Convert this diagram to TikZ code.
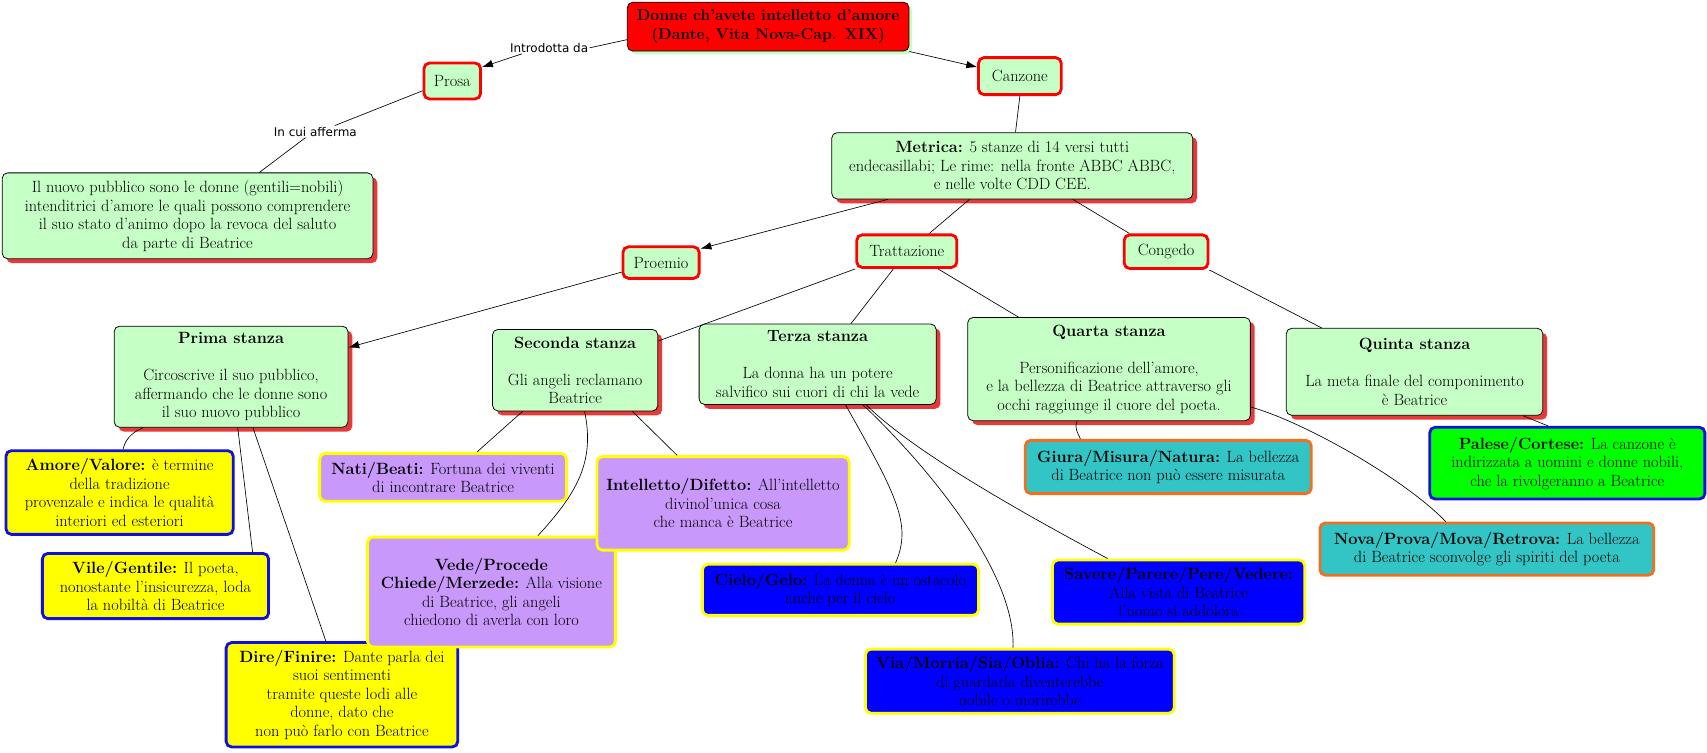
\documentclass[tikz,border=0pt]{standalone}
\usepackage{fontspec}
\newfontfamily\labelfont{DejaVu Sans}
\usetikzlibrary{arrows.meta,shadows}

\definecolor{cgreen}{HTML}{C6FFC6}
\definecolor{shred}{HTML}{E63A3A}
\definecolor{lavender}{HTML}{C898FA}
\definecolor{cyanbox}{HTML}{33C5C5}
\definecolor{orangeb}{HTML}{F07020}
\definecolor{ylw}{HTML}{FFFF00}
\definecolor{blu}{HTML}{0000FF}
\definecolor{bluedge}{HTML}{1010DD}
\definecolor{grn}{HTML}{00FF00}

\tikzset{
  box/.style={align=center, rounded corners=5pt, inner sep=2pt},
  concept/.style={box, draw=black, line width=0.7pt, fill=cgreen,
    drop shadow={shadow xshift=4pt, shadow yshift=-4pt, fill=shred, opacity=1}},
  maintitle/.style={box, draw=black, line width=0.7pt, fill=red,
    font=\fontsize{14.5}{17}\selectfont\bfseries,
    drop shadow={shadow xshift=3pt, shadow yshift=-3pt, fill=cgreen, opacity=1}},
  linkword/.style={box, draw=red, line width=2.6pt, fill=cgreen},
  leaf/.style={box, line width=2.6pt},
  yellowleaf/.style={leaf, draw=bluedge, fill=ylw},
  purpleleaf/.style={leaf, draw=ylw, fill=lavender},
  blueleaf/.style={leaf, draw=ylw, fill=blu},
  cyanleaf/.style={leaf, draw=orangeb, fill=cyanbox},
  greenleaf/.style={leaf, draw=bluedge, fill=grn},
  lbl/.style={font=\labelfont\fontsize{11}{13}\selectfont, inner sep=1pt},
  arr/.style={-{Latex[length=10pt,width=7pt]}},
}

\begin{document}
\begin{tikzpicture}[x=1pt, y=-1pt, line width=0.6pt,
  every node/.style={font=\fontsize{15}{17}\selectfont}]
\useasboundingbox (0,0) rectangle (1570,692);

% top of the map
\node[maintitle, minimum width=259pt, minimum height=45pt] (title) at (706.5,24.5)
  {Donne ch'avete intelletto d'amore\\(Dante, Vita Nova-Cap. XIX)};
\node[linkword, minimum width=52pt, minimum height=33pt] (prosa) at (416,74.5) {Prosa};
\node[linkword, minimum width=76pt, minimum height=34pt] (canzone) at (938,70) {Canzone};
\node[lbl] (intro) at (505,44) {Introdotta da};
\node[lbl] (incui) at (290,121) {In cui afferma};
\node[concept, minimum width=341pt, minimum height=79pt] (prosatext) at (172.5,198.5)
  {Il nuovo pubblico sono le donne (gentili=nobili)\\intenditrici d'amore le quali possono comprendere\\il suo stato d'animo dopo la revoca del saluto\\da parte di Beatrice};
\node[concept, minimum width=332pt, minimum height=61pt] (metrica) at (931,152.5)
  {\textbf{Metrica:} 5 stanze di 14 versi tutti\\endecasillabi; Le rime: nella fronte ABBC ABBC,\\e nelle volte CDD CEE.};

% parts of the canzone
\node[linkword, minimum width=70pt, minimum height=29pt] (proemio) at (608,241.5) {Proemio};
\node[linkword, minimum width=92pt, minimum height=30pt] (trattazione) at (834,231) {Trattazione};
\node[linkword, minimum width=77pt, minimum height=31pt] (congedo) at (1072.5,231.5) {Congedo};

% stanze
\node[concept, minimum width=215pt, minimum height=93pt] (prima) at (212.5,346.5)
  {\textbf{Prima stanza}\\[17pt]Circoscrive il suo pubblico,\\affermando che le donne sono\\il suo nuovo pubblico};
\node[concept, minimum width=152pt, minimum height=75pt] (seconda) at (529,340.5)
  {\textbf{Seconda stanza}\\[17pt]Gli angeli reclamano\\Beatrice};
\node[concept, minimum width=218pt, minimum height=74pt] (terza) at (752,335)
  {\textbf{Terza stanza}\\[17pt]La donna ha un potere\\salvifico sui cuori di chi la vede};
\node[concept, minimum width=260pt, minimum height=95pt] (quarta) at (1020,339.5)
  {\textbf{Quarta stanza}\\[17pt]Personificazione dell'amore,\\e la bellezza di Beatrice attraverso gli\\occhi raggiunge il cuore del poeta.};
\node[concept, minimum width=236pt, minimum height=80pt] (quinta) at (1301,342)
  {\textbf{Quinta stanza}\\[17pt]La meta finale del componimento\\è Beatrice};

% rime
\node[yellowleaf, minimum width=209pt, minimum height=77pt] (amore) at (110,453)
  {\textbf{Amore/Valore:} è termine\\della tradizione\\provenzale e indica le qualità\\interiori ed esteriori};
\node[yellowleaf, minimum width=208pt, minimum height=60pt] (vile) at (143,539)
  {\textbf{Vile/Gentile:} Il poeta,\\nonostante l'insicurezza, loda\\la nobiltà di Beatrice};
\node[yellowleaf, minimum width=213pt, minimum height=96pt] (dire) at (314.5,639)
  {\textbf{Dire/Finire:} Dante parla dei\\suoi sentimenti\\tramite queste lodi alle\\donne, dato che\\non può farlo con Beatrice};
\node[purpleleaf, minimum width=227pt, minimum height=44pt] (nati) at (407.5,439)
  {\textbf{Nati/Beati:} Fortuna dei viventi\\di incontrare Beatrice};
\node[purpleleaf, minimum width=228pt, minimum height=101pt] (vede) at (452,544.5)
  {\textbf{Vede/Procede}\\\textbf{Chiede/Merzede:} Alla visione\\di Beatrice, gli angeli\\chiedono di averla con loro};
\node[purpleleaf, minimum width=232pt, minimum height=86pt] (intelletto) at (665,463)
  {\textbf{Intelletto/Difetto:} All'intelletto\\divinol'unica cosa\\che manca è Beatrice};
\node[blueleaf, minimum width=254pt, minimum height=47pt] (cielo) at (773,542.5)
  {\textbf{Cielo/Gelo:} La donna è un ostacolo\\anche per il cielo};
\node[blueleaf, minimum width=284pt, minimum height=59pt] (via) at (938,626.5)
  {\textbf{Via/Morria/Sia/Oblia:} Chi ha la forza\\di guardarla diventerebbe\\nobile o morirebbe};
\node[blueleaf, minimum width=232pt, minimum height=59pt] (savere) at (1084,544.5)
  {\textbf{Savere/Parere/Pere/Vedere:}\\Alla vista di Beatrice\\l'uomo si addolora};
\node[cyanleaf, minimum width=263pt, minimum height=49pt] (giura) at (1074.5,429.5)
  {\textbf{Giura/Misura/Natura:} La bellezza\\di Beatrice non può essere misurata};
\node[cyanleaf, minimum width=307pt, minimum height=48pt] (nova) at (1367.5,505)
  {\textbf{Nova/Prova/Mova/Retrova:} La bellezza\\di Beatrice sconvolge gli spiriti del poeta};
\node[greenleaf, minimum width=253pt, minimum height=66pt] (palese) at (1441.5,426)
  {\textbf{Palese/Cortese:} La canzone è\\indirizzata a uomini e donne nobili,\\che la rivolgeranno a Beatrice};

% connectors
\draw ([yshift=-12pt]title.west) -- (intro.east);
\draw[arr] ([xshift=-25pt]intro.south) -- ([yshift=-5pt]prosa.north east);
\draw[arr] (title.south east) -- ([yshift=-10pt]canzone.north west);
\draw ([yshift=-9pt]prosa.west) -- ([xshift=18pt]incui.north);
\draw ([xshift=-9pt]incui.south) -- ([xshift=66pt]prosatext.north);
\draw (canzone.south) -- ([xshift=3pt]metrica.north);
\draw[arr] ([xshift=52pt]metrica.south west) -- ([yshift=-3pt]proemio.north east);
\draw ([xshift=127pt]metrica.south west) -- ([xshift=68pt]trattazione.north west);
\draw ([xshift=222pt]metrica.south west) -- ([xshift=6pt]congedo.north west);
\draw[arr] ([yshift=7pt]proemio.south west) -- ([yshift=-20pt]prima.north east);
\draw (trattazione.south west) -- ([yshift=-11pt]seconda.north east);
\draw ([xshift=35pt]trattazione.south west) -- ([xshift=140pt]terza.north west);
\draw ([xshift=76pt]trattazione.south west) -- ([xshift=47pt]quarta.north west);
\draw (congedo.south east) -- ([xshift=33pt]quinta.north west);

\draw ([xshift=27pt]prima.south west) .. controls +(-12,5) and +(2,-8) .. ([xshift=109pt]amore.north west);
\draw ([xshift=114pt]prima.south west) -- ([xshift=-16pt]vile.north east);
\draw ([xshift=128pt]prima.south west) -- ([xshift=93pt]dire.north west);

\draw ([xshift=28pt]seconda.south west) -- ([xshift=146pt]nati.north west);
\draw ([xshift=85pt]seconda.south west) .. controls +(10,47) and +(35,-38) .. ([xshift=158pt]vede.north west);
\draw ([xshift=129pt]seconda.south west) -- ([xshift=75pt]intelletto.north west);

\draw ([xshift=135pt]terza.south west) .. controls +(48,85) and +(15,-35) .. ([xshift=179pt]cielo.north west);
\draw ([xshift=151pt]terza.south west) .. controls +(46,43) and +(3,-75) .. ([xshift=137pt]via.north west);
\draw ([xshift=154pt]terza.south west) .. controls +(45,45) and +(-69,-37) .. ([xshift=52pt]savere.north west);

\draw ([xshift=101pt]quarta.south west) .. controls +(-3,7) and +(-2,-5) .. ([xshift=52pt]giura.north west);
\draw ([yshift=13pt]quarta.south east) .. controls +(47,13) and +(-40,-41) .. ([xshift=117pt]nova.north west);
\draw ([xshift=218pt]quinta.south west) -- ([xshift=110pt]palese.north west);
\end{tikzpicture}
\end{document}
